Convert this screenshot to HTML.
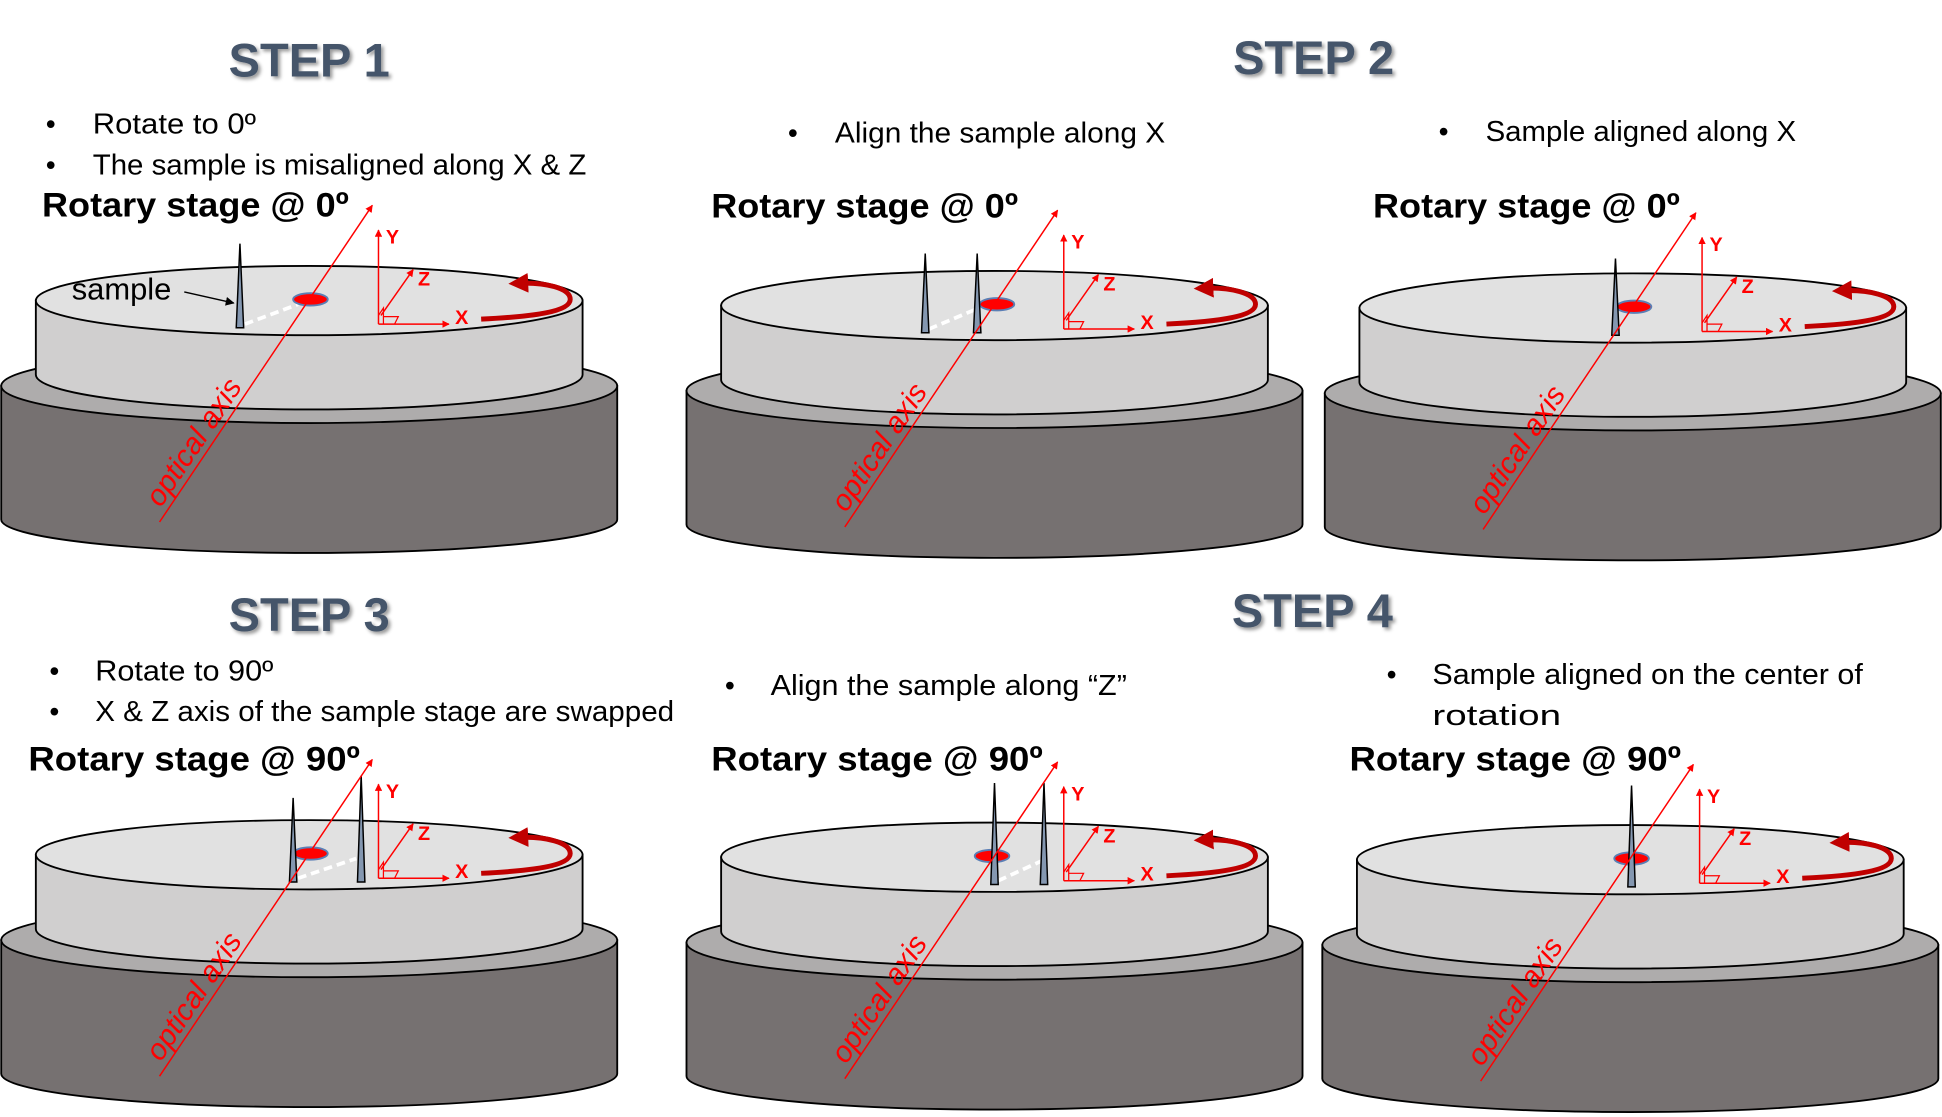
<!DOCTYPE html>
<html><head><meta charset="utf-8">
<style>
html,body{margin:0;padding:0;background:#fff;}
svg{display:block;}
.title{font-family:"Liberation Sans",sans-serif;font-weight:bold;font-size:38px;fill:#44546a;}
.bul{font-family:"Liberation Sans",sans-serif;font-size:23px;fill:#000;}
.rot{font-family:"Liberation Sans",sans-serif;font-weight:bold;font-size:28px;fill:#000;}
.ax{font-family:"Liberation Sans",sans-serif;font-weight:bold;font-size:16px;fill:#f00;}
.opt{font-family:"Liberation Sans",sans-serif;font-style:italic;font-size:24px;fill:#f00;}
</style></head>
<body>
<svg id="root" width="1942" height="1117" viewBox="0 0 1568 903" xmlns="http://www.w3.org/2000/svg">
<defs>
<filter id="sh" x="-10%" y="-10%" width="130%" height="140%"><feDropShadow dx="2" dy="2" stdDeviation="1.5" flood-color="#000" flood-opacity="0.4"/></filter>
<marker id="ar" viewBox="0 0 10 10" refX="9" refY="5" markerWidth="5" markerHeight="5" orient="auto"><path d="M0,0L10,5L0,10z" fill="#f00"/></marker>
<marker id="ab" viewBox="0 0 10 10" refX="9" refY="5" markerWidth="6" markerHeight="6" orient="auto"><path d="M0,0L10,5L0,10z" fill="#000"/></marker>
<marker id="ard" viewBox="0 0 10 10" refX="5" refY="5" markerWidth="4" markerHeight="4" orient="auto"><path d="M0,0L10,5L0,10z" fill="#c00000"/></marker>
</defs>
<text class="title" x="249" y="62" text-anchor="middle" filter="url(#sh)">STEP 1</text>
<text class="title" x="1061" y="60" text-anchor="middle" filter="url(#sh)">STEP 2</text>
<text class="title" x="249" y="510" text-anchor="middle" filter="url(#sh)">STEP 3</text>
<text class="title" x="1060" y="507" text-anchor="middle" filter="url(#sh)">STEP 4</text>

<g>
<text class="bul" x="36" y="108">•</text><text class="bul" x="74" y="108" textLength="132" lengthAdjust="spacingAndGlyphs">Rotate to 0º</text>
<text class="bul" x="36" y="141">•</text><text class="bul" x="74" y="141" textLength="399" lengthAdjust="spacingAndGlyphs">The sample is misaligned along X &amp; Z</text>
<text class="bul" x="636" y="115">•</text><text class="bul" x="674" y="115" textLength="267" lengthAdjust="spacingAndGlyphs">Align the sample along X</text>
<text class="bul" x="1162" y="114">•</text><text class="bul" x="1200" y="114" textLength="251" lengthAdjust="spacingAndGlyphs">Sample aligned along X</text>
<text class="bul" x="39" y="550">•</text><text class="bul" x="76" y="550" textLength="144" lengthAdjust="spacingAndGlyphs">Rotate to 90º</text>
<text class="bul" x="39" y="583">•</text><text class="bul" x="76" y="583" textLength="468" lengthAdjust="spacingAndGlyphs">X &amp; Z axis of the sample stage are swapped</text>
<text class="bul" x="585" y="562">•</text><text class="bul" x="622" y="562" textLength="288" lengthAdjust="spacingAndGlyphs">Align the sample along “Z”</text>
<text class="bul" x="1120" y="553">•</text><text class="bul" x="1157" y="553" textLength="348" lengthAdjust="spacingAndGlyphs">Sample aligned on the center of</text>
<text class="bul" x="1157" y="586" textLength="104" lengthAdjust="spacingAndGlyphs">rotation</text>
</g>
<g id="panels"></g>
</svg>
<script>
const panelOffsets=[[0,0],[554,4],[1070,6],[0,448],[554,450],[1068,452]];
const panelSamples=[[193],[193,235],[235],[236,291],[249,289],[250]];
const sampleTops=[[197],[201,201],[203],[197,179],[183,183],[183]];
const dotX=[250,251,250,250,247,250];
const dashed=[[197,240],[196,234],null,[240,287],[252,287],null];
const rotLabels=["Rotary stage @ 0º","Rotary stage @ 0º","Rotary stage @ 0º","Rotary stage @ 90º","Rotary stage @ 90º","Rotary stage @ 90º"];
const NS="http://www.w3.org/2000/svg";
function mk(tag,attrs,parent){const e=document.createElementNS(NS,tag);for(const k in attrs)e.setAttribute(k,attrs[k]);parent.appendChild(e);return e;}
const root=document.getElementById('panels');
const absX=[33,574,1109,22,574,1090];const absY=[175,176,176,623,623,623];
panelOffsets.forEach((o,i)=>{
  const g=mk('g',{transform:`translate(${o[0]},${o[1]})`},root);
  
  
  const base=mk('g',{},g);
  
  
  mk('path',{d:'M0,312 L0,420 A249,27 0 0 0 498,420 L498,312 Z',fill:'#767171',stroke:'#000','stroke-width':1.5},base);
  mk('ellipse',{cx:249,cy:312,rx:249,ry:30,fill:'#aeacac',stroke:'#000','stroke-width':1.5},base);
  const disc=mk('g',{},g);
  
  
  mk('path',{d:'M28,243 L28,303 A221,28 0 0 0 470,303 L470,243 Z',fill:'#d0cfcf',stroke:'#000','stroke-width':1.5},disc);
  mk('ellipse',{cx:249,cy:243,rx:221,ry:28,fill:'#e1e1e1',stroke:'#000','stroke-width':1.5},disc);
  if(dashed[i]){const l=mk('line',{x1:dashed[i][0],y1:262,x2:dashed[i][1],y2:246,stroke:'#fff','stroke-width':3,'stroke-dasharray':'7,4'},g);
    
    }
  const d=mk('ellipse',{cx:dotX[i],cy:242,rx:14,ry:5,fill:'#f00',stroke:'#5b7fb5','stroke-width':1.5},g);
  
  
  panelSamples[i].forEach((sx,j)=>{
    const p=mk('path',{d:`M${sx-3},265 L${sx},${sampleTops[i][j]} L${sx+3},265 Z`,fill:'#8497b0',stroke:'#000','stroke-width':1.2},g);
    
    
  });
  const oa=mk('line',{x1:128,y1:422,x2:300,y2:166,stroke:'#f00','stroke-width':1.2,'marker-end':'url(#ar)'},g);
  
  
  const ot=mk('text',{class:'opt',x:0,y:0,transform:'translate(129,411) rotate(-56)'},g);
  ot.textContent='optical axis';
  
  
  const ax=mk('g',{},g);
  
  
  mk('line',{x1:305,y1:262,x2:305,y2:186,stroke:'#f00','stroke-width':1.2,'marker-end':'url(#ar)'},ax);
  mk('line',{x1:305,y1:262,x2:362,y2:262,stroke:'#f00','stroke-width':1.2,'marker-end':'url(#ar)'},ax);
  mk('line',{x1:307,y1:255,x2:333,y2:218,stroke:'#f00','stroke-width':1.2,'marker-end':'url(#ar)'},ax);
  mk('path',{d:'M305,255 L309,249 L309,262 M309,256 L321,256 L318,262',fill:'none',stroke:'#f00','stroke-width':1},ax);
  [['Y',311,197],['Z',337,231],['X',367,262]].forEach(t=>{const e=mk('text',{class:'ax',x:t[1],y:t[2]},ax);e.textContent=t[0];});
  const ra=mk('path',{d:'M388,258 C430,256 460,252 460,242 C460,233 440,228 418,229',fill:'none',stroke:'#c00000','stroke-width':4,'marker-end':'url(#ard)'},g);
  
  
  const rl=mk('text',{class:'rot',x:absX[i]-o[0],y:absY[i]-o[1],textLength:(i<3?248:268),lengthAdjust:'spacingAndGlyphs'},g);
  rl.textContent=rotLabels[i];
  
  
});
const p1=root.children[0];
const st=mk('text',{class:'bul',x:57,y:242},p1);st.textContent='sample';st.style.fontSize='25px';


const sa=mk('line',{x1:148,y1:236,x2:188,y2:245,stroke:'#000','stroke-width':1.2,'marker-end':'url(#ab)'},p1);


</script>
</body></html>
